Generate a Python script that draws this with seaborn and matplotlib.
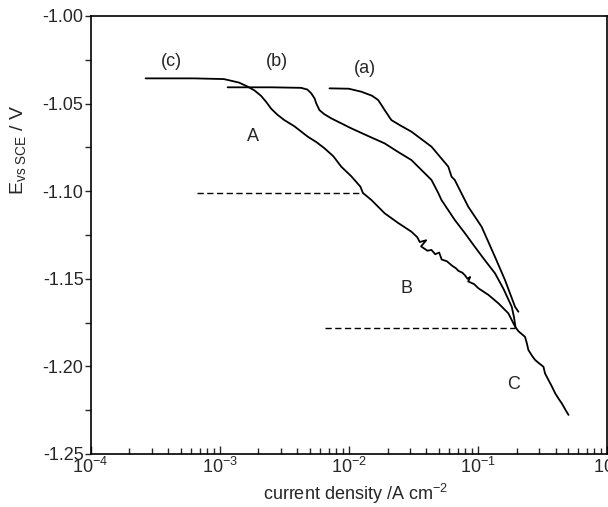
import numpy as np
import pandas as pd
import matplotlib
matplotlib.use("Agg")
import matplotlib.pyplot as plt
import seaborn as sns

# ---- data (log10 of current density / A cm-2, potential / V) ----
c_logi = [-3.573, -3.200, -2.967, -2.850, -2.783, -2.730, -2.680, -2.640, -2.600, -2.550,
          -2.499, -2.420, -2.317, -2.250, -2.188, -2.120, -2.058, -1.980, -1.910, -1.890,
          -1.825, -1.722, -1.620, -1.515, -1.470, -1.450, -1.400, -1.440, -1.390, -1.360,
          -1.330, -1.300, -1.280, -1.240, -1.200, -1.170, -1.150, -1.120, -1.100, -1.080,
          -1.060, -1.075, -1.030, -0.996, -0.918, -0.841, -0.764, -0.712, -0.685, -0.635,
          -0.620, -0.609, -0.580, -0.557, -0.530, -0.492, -0.480, -0.453, -0.430, -0.401,
          -0.370, -0.350, -0.320, -0.298]
c_E = [-1.0356, -1.0356, -1.0360, -1.0380, -1.0403, -1.0425, -1.0455, -1.0490, -1.0530, -1.0565,
       -1.0594, -1.0630, -1.0689, -1.0720, -1.0755, -1.0800, -1.0860, -1.0915, -1.0974, -1.1010,
       -1.1050, -1.1126, -1.1180, -1.1231, -1.1262, -1.1290, -1.1280, -1.1315, -1.1340, -1.1335,
       -1.1360, -1.1350, -1.1390, -1.1400, -1.1425, -1.1440, -1.1455, -1.1465, -1.1480, -1.1500,
       -1.1490, -1.1515, -1.1530, -1.1554, -1.1592, -1.1640, -1.1697, -1.1773, -1.1800, -1.1831,
       -1.1870, -1.1906, -1.1940, -1.1963, -1.1980, -1.2002, -1.2040, -1.2078, -1.2110, -1.2154,
       -1.2190, -1.2211, -1.2250, -1.2277]

b_logi = [-2.938, -2.600, -2.369, -2.320, -2.291, -2.265, -2.252, -2.227, -2.190, -2.136,
          -1.981, -1.850, -1.722, -1.620, -1.515, -1.385, -1.359, -1.307, -1.282, -1.179,
          -1.100, -1.024, -0.950, -0.867, -0.800, -0.738, -0.720, -0.708]
b_E = [-1.0407, -1.0407, -1.0410, -1.0420, -1.0441, -1.0470, -1.0498, -1.0537, -1.0560, -1.0584,
       -1.0641, -1.0685, -1.0727, -1.0775, -1.0822, -1.0917, -1.0936, -1.1010, -1.1050, -1.1164,
       -1.1240, -1.1317, -1.1390, -1.1469, -1.1560, -1.1659, -1.1720, -1.1778]

a_logi = [-2.149, -2.000, -1.903, -1.820, -1.773, -1.745, -1.722, -1.670, -1.600, -1.515,
          -1.359, -1.229, -1.204, -1.179, -1.075, -0.971, -0.868, -0.790, -0.712, -0.686]
a_E = [-1.0413, -1.0415, -1.0432, -1.0455, -1.0479, -1.0510, -1.0537, -1.0594, -1.0625, -1.0660,
       -1.0746, -1.0860, -1.0917, -1.0936, -1.1088, -1.1203, -1.1374, -1.1507, -1.1660, -1.1688]

dash_upper_logi = [-3.177, -1.890]
dash_upper_E = [-1.101, -1.101]
dash_lower_logi = [-2.183, -0.712]
dash_lower_E = [-1.178, -1.178]

label_texts = ["(c)", "(b)", "(a)", "A", "B", "C"]
label_logi = [-3.371, -2.557, -1.873, -2.738, -1.550, -0.724]
label_E = [-1.0261, -1.0261, -1.0299, -1.0689, -1.1554, -1.2106]

# ---- style ----
sns.set_style("ticks")
plt.rcParams["font.family"] = ["Liberation Sans", "DejaVu Sans"]
plt.rcParams["mathtext.fontset"] = "custom"
plt.rcParams["mathtext.rm"] = "Liberation Sans"
plt.rcParams["mathtext.it"] = "Liberation Sans:italic"
plt.rcParams["mathtext.default"] = "regular"

fig = plt.figure(figsize=(6.08, 5.07), dpi=100)
L, R, T, B = 90.5, 607.0, 16.0, 454.0
ax = fig.add_axes([L / 608, 1 - B / 507, (R - L) / 608, (B - T) / 507])

for logi, E in [(c_logi, c_E), (b_logi, b_E), (a_logi, a_E)]:
    df = pd.DataFrame({"i": 10 ** np.array(logi), "E": E})
    sns.lineplot(data=df, x="i", y="E", sort=False, estimator=None,
                 color="black", lw=1.3, ax=ax)

for logi, E in [(dash_upper_logi, dash_upper_E), (dash_lower_logi, dash_lower_E)]:
    df = pd.DataFrame({"i": 10 ** np.array(logi), "E": E})
    sns.lineplot(data=df, x="i", y="E", sort=False, estimator=None,
                 color="black", lw=1.0, ax=ax, linestyle=(0, (4.5, 2.5)))

for t, lx, ly in zip(label_texts, label_logi, label_E):
    ax.text(10 ** lx, ly, t, ha="center", va="center", fontsize=13)

ax.set_xscale("log")
ax.set_xlim(1e-4, 1.0)
ax.set_ylim(-1.25, -1.00)
ax.set_yticks([-1.25, -1.20, -1.15, -1.10, -1.05, -1.00])
ax.set_yticklabels(["-1.25", "-1.20", "-1.15", "-1.10", "-1.05", "-1.00"])
ax.set_yticks(np.arange(-1.225, -1.0, 0.05), minor=True)
ax.set_xticks([1e-4, 1e-3, 1e-2, 1e-1, 1e0])
ax.set_xticklabels([r"$10^{-4}$", r"$10^{-3}$", r"$10^{-2}$", r"$10^{-1}$", r"$10^{0}$"])

for s in ax.spines.values():
    s.set_visible(True)
    s.set_linewidth(1.2)
    s.set_color("black")

ax.tick_params(axis="x", which="major", direction="in", length=6, width=1.0, labelsize=13, pad=2)
ax.tick_params(axis="x", which="minor", direction="in", length=4, width=1.0)
ax.tick_params(axis="y", which="major", direction="out", length=4, width=1.0, labelsize=13, pad=1)
ax.tick_params(axis="y", which="minor", direction="out", length=4, width=1.0)

ax.set_xlabel(r"current density /A cm$^{-2}$", fontsize=13)
ax.set_ylabel(r"E$_{\mathrm{vs\ SCE}}$ / V", fontsize=14)
ax.xaxis.set_label_coords((356 - L) / (R - L), -(482 - B) / (B - T))
ax.yaxis.set_label_coords(-(L - 28) / (R - L), 1 - (150 - T) / (B - T))

fig.savefig("out.png", dpi=100)
